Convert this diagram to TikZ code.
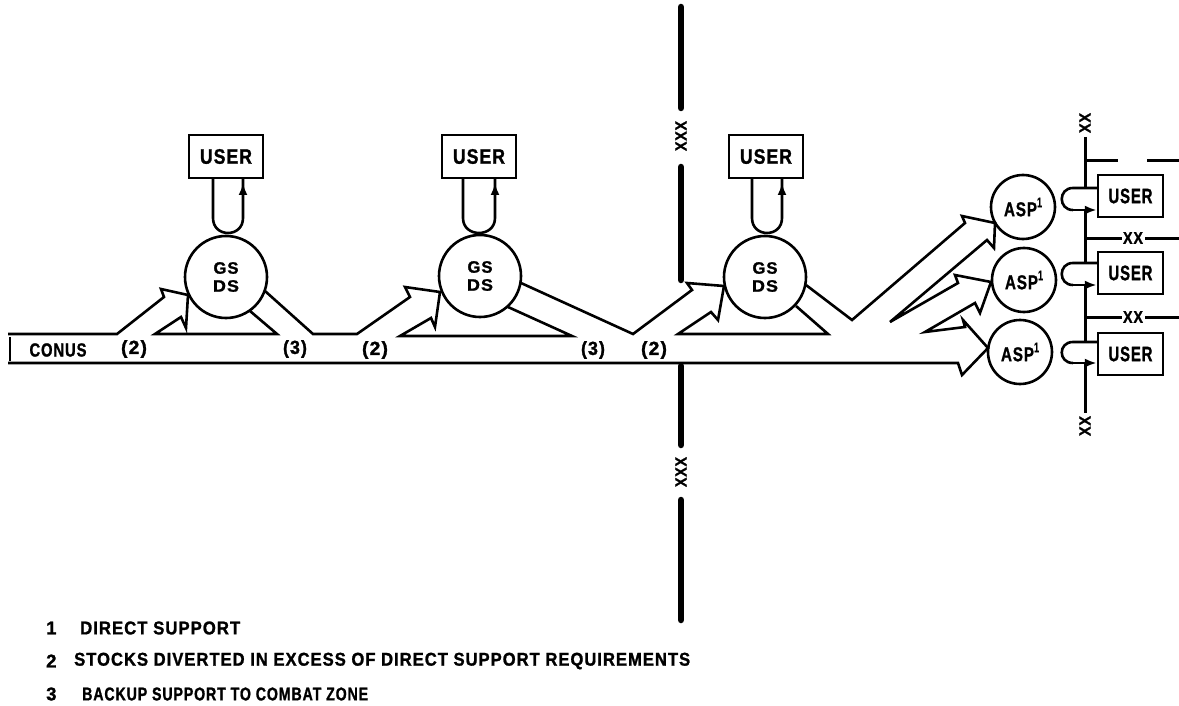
\documentclass[tikz,border=0pt]{standalone}
\usepackage{fontspec}
\usepackage{graphicx}
\setmainfont{Liberation Sans}[BoldFeatures={FakeBold=1.3},LetterSpace=6]
\usetikzlibrary{arrows.meta}
\newcommand{\fitw}[2]{\resizebox{#1}{\height}{#2}}
\tikzset{
  flow/.style={line width=2.6pt, line join=miter},
  hub/.style={circle, draw, line width=2.6pt, minimum size=82pt, inner sep=0pt, align=center,
    font=\bfseries\fontsize{16.5}{18}\selectfont},
  sat/.style={circle, draw, line width=2.6pt, minimum size=64pt, inner sep=0pt,
    font=\bfseries\fontsize{20}{20}\selectfont},
  userbox/.style={draw, line width=2.4pt, minimum width=74pt, minimum height=43pt, inner sep=0pt,
    font=\bfseries\fontsize{21}{21}\selectfont},
  suserbox/.style={draw, line width=2.4pt, minimum width=65pt, minimum height=42pt, inner sep=0pt,
    font=\bfseries\fontsize{21}{21}\selectfont},
  lbl/.style={font=\bfseries\fontsize{19}{19}\selectfont, inner sep=0pt},
  note/.style={font=\bfseries\fontsize{18.5}{18.5}\selectfont, anchor=west, inner sep=0pt},
  zone/.style={line width=6.5pt, line cap=round},
  bound/.style={line width=3pt},
  tag/.style={font=\bfseries\fontsize{16}{16}\selectfont, rotate=90, inner sep=0pt},
  htag/.style={font=\bfseries\fontsize{17}{17}\selectfont, inner sep=0pt},
  tip/.style={-{Latex[length=12pt,width=9pt]}},
}
\newcommand{\asplabel}{\fitw{33pt}{ASP}\raisebox{9pt}{\fontsize{14}{14}\selectfont\fitw{5pt}{1}}}
\begin{document}
\begin{tikzpicture}[x=1pt,y=-1pt]
\useasboundingbox (0,0) rectangle (1179,706);

% hubs and users
\node[hub] (gs1) at (226,277) {\fitw{25pt}{GS}\\\fitw{26pt}{DS}};
\node[hub] (gs2) at (480,276) {\fitw{25pt}{GS}\\\fitw{26pt}{DS}};
\node[hub] (gs3) at (765,277) {\fitw{25pt}{GS}\\\fitw{26pt}{DS}};
\node[userbox] (u1) at (226,156.5) {\fitw{52pt}{USER}};
\node[userbox] (u2) at (479,156.5) {\fitw{52pt}{USER}};
\node[userbox] (u3) at (766,156.5) {\fitw{52pt}{USER}};

% user loops above hubs
\draw[flow] (213,178) -- (213,218) .. controls (213,238) and (243,238) .. (243,218) -- (243,178);
\draw[flow,tip] (243,205) -- (243,183);
\draw[flow] (463,178) -- (463,218) .. controls (463,238) and (495,238) .. (495,218) -- (495,178);
\draw[flow,tip] (495,205) -- (495,183);
\draw[flow] (752,178) -- (752,218) .. controls (752,238) and (782,238) .. (782,218) -- (782,178);
\draw[flow,tip] (782,205) -- (782,183);

% ASP nodes and users
\node[sat] (a1) at (1023,207) {\asplabel};
\node[sat] (a2) at (1024,280) {\asplabel};
\node[sat] (a3) at (1020,352) {\asplabel};
\node[suserbox] (v1) at (1130.5,196) {\fitw{44pt}{USER}};
\node[suserbox] (v2) at (1130.5,273) {\fitw{44pt}{USER}};
\node[suserbox] (v3) at (1130.5,354) {\fitw{44pt}{USER}};

% ASP loops
\draw[flow] (v1.west |- 0,188) -- (1073,188) .. controls (1058,188) and (1058,210) .. (1073,210);
\draw[flow,tip] (1073,210) -- (v1.west |- 0,210);
\draw[flow] (v2.west |- 0,263) -- (1073,263) .. controls (1058,263) and (1058,285) .. (1073,285);
\draw[flow,tip] (1073,285) -- (v2.west |- 0,285);
\draw[flow] (v3.west |- 0,342) -- (1073,342) .. controls (1058,342) and (1058,363) .. (1073,363);
\draw[flow,tip] (1073,363) -- (v3.west |- 0,363);

% main flow outline
\draw[flow] (8,334) -- (117,334) -- (164,297) -- (161,289) -- (188,295)
   -- (186,328) -- (181,317) -- (155,334) -- (277,334) -- (250,311);
\draw[flow] (265,291) -- (313,334) -- (357,334) -- (410,297) -- (405,287) -- (440,292)
   -- (435,327) -- (431,318) -- (400,336) -- (572,336) -- (508,307);
\draw[flow] (521,283) -- (633,334) -- (692,290) -- (687,283) -- (724,286)
   -- (718,320) -- (711,312) -- (678,334) -- (828,334) -- (796,306);
\draw[flow] (806,285) -- (852,320) -- (965,223) -- (962,216) -- (995,223)
   -- (994,248) -- (987,240) -- (890,322) -- (958,283) -- (955,275) -- (991,282)
   -- (980,313) -- (975,303) -- (925,332) -- (965,327) -- (963,320) -- (988,348)
   -- (962,375) -- (958,363) -- (8,363);
\draw[line width=1.2pt] (10,337) -- (10,361);

% labels on the flow
\node[lbl] (conus) at (58,350) {\fitw{57pt}{CONUS}};
\node[lbl] (l1) at (134,349) {\fitw{26pt}{(2)}};
\node[lbl] (l2) at (295,349) {\fitw{24pt}{(3)}};
\node[lbl] (l3) at (375,350) {\fitw{26pt}{(2)}};
\node[lbl] (l4) at (593,350) {\fitw{24pt}{(3)}};
\node[lbl] (l5) at (654,350) {\fitw{26pt}{(2)}};

% corps boundary (XXX)
\draw[zone] (681,7) -- (681,108);
\node[tag] (x1) at (681,136) {\fitw{30pt}{XXX}};
\draw[zone] (681,167) -- (681,280);
\draw[zone] (681,366) -- (681,445);
\node[tag] (x2) at (681,472) {\fitw{30pt}{XXX}};
\draw[zone] (681,500) -- (681,620);

% division boundaries (XX)
\node[tag] (d1) at (1085,123) {\fitw{20pt}{XX}};
\node[tag] (d2) at (1085,426) {\fitw{20pt}{XX}};
\draw[bound] (1085,137) -- (1085,188);
\draw[bound] (1085,210) -- (1085,263);
\draw[bound] (1085,285) -- (1085,342);
\draw[bound] (1085,363) -- (1085,413);
\draw[bound] (1085,161) -- (1118,161);
\draw[bound] (1147,161) -- (1179,161);
\node[htag] (d3) at (1133,238) {\fitw{20pt}{XX}};
\draw[bound] (1085,238) -- (1122,238);
\draw[bound] (1145,238) -- (1179,238);
\node[htag] (d4) at (1133,317) {\fitw{20pt}{XX}};
\draw[bound] (1085,317) -- (1122,317);
\draw[bound] (1145,317) -- (1179,317);

% footnotes
\node[note] (n1) at (46,628) {1};
\node[note] (t1) at (80,628) {\fitw{160pt}{DIRECT SUPPORT}};
\node[note] (n2) at (46,661) {2};
\node[note] (t2) at (74,661) {\fitw{616pt}{STOCKS DIVERTED IN EXCESS OF DIRECT SUPPORT REQUIREMENTS}};
\node[note] (n3) at (46,694) {3};
\node[note] (t3) at (82,694) {\fitw{286pt}{BACKUP SUPPORT TO COMBAT ZONE}};
\end{tikzpicture}
\end{document}
